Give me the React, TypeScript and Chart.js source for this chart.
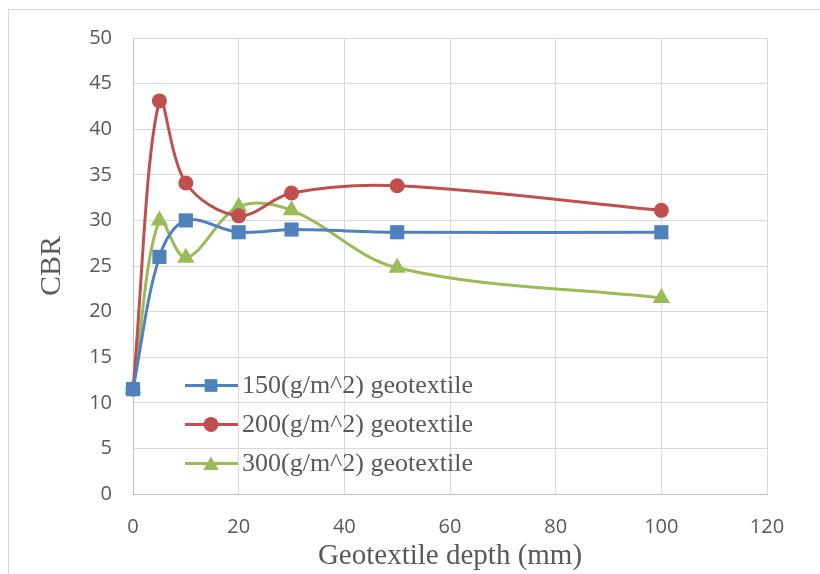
import React, { useEffect, useRef } from "react";
import { Chart, registerables } from "chart.js";

Chart.register(...registerables);

const depths = [0, 5, 10, 20, 30, 50, 100];
const cbr150 = [11.5, 26.0, 30.0, 28.7, 29.0, 28.7, 28.7];
const cbr200 = [11.5, 43.1, 34.1, 30.5, 33.0, 33.8, 31.1];
const cbr300 = [11.5, 30.0, 25.9, 31.5, 31.1, 24.8, 21.5];
const seriesNames = [
  "150(g/m^2) geotextile",
  "200(g/m^2) geotextile",
  "300(g/m^2) geotextile",
];
const seriesColors = ["#4f81bd", "#c0504d", "#9bbb59"];
const seriesMarkers = ["rect", "circle", "triangle"];
const markerRadius = [10, 7.5, 10];
const xTitle = "Geotextile depth (mm)";
const yTitle = "CBR";

const TEXT = "#595959";
const GRID = "#d9d9d9";
const AXIS = "#bfbfbf";

const frame = {
  id: "frame",
  beforeDraw(chart: any) {
    const ctx = chart.ctx;
    ctx.save();
    ctx.fillStyle = "#ffffff";
    ctx.fillRect(0, 0, chart.width, chart.height);
    ctx.strokeStyle = GRID;
    ctx.lineWidth = 1;
    ctx.strokeRect(8.5, 9.5, chart.width + 10, chart.height + 10);
    ctx.restore();
  },
};

function drawMarker(ctx: any, style: string, x: number, y: number, r: number) {
  ctx.beginPath();
  if (style === "rect") {
    const s = r * Math.SQRT1_2;
    ctx.rect(x - s, y - s, 2 * s, 2 * s);
  } else if (style === "circle") {
    ctx.arc(x, y, r, 0, Math.PI * 2);
  } else {
    ctx.moveTo(x, y - r);
    ctx.lineTo(x + r * 0.866, y + r * 0.5);
    ctx.lineTo(x - r * 0.866, y + r * 0.5);
    ctx.closePath();
  }
  ctx.fill();
}

const innerLegend = {
  id: "innerLegend",
  afterDatasetsDraw(chart: any) {
    const ctx = chart.ctx;
    const rows = [385.5, 424.5, 463.5];
    const radii = [9, 7.5, 9];
    chart.data.datasets.forEach((ds: any, i: number) => {
      const y = rows[i];
      ctx.save();
      ctx.strokeStyle = ds.borderColor;
      ctx.lineWidth = 3;
      ctx.beginPath();
      ctx.moveTo(185, y);
      ctx.lineTo(238, y);
      ctx.stroke();
      ctx.fillStyle = ds.borderColor;
      drawMarker(ctx, ds.pointStyle, 211, y + (i === 2 ? 2 : 0), radii[i]);
      ctx.fillStyle = TEXT;
      ctx.font = "26px 'Liberation Serif', 'Times New Roman', serif";
      ctx.textBaseline = "middle";
      ctx.textAlign = "left";
      ctx.fillText(ds.label, 242, y + 1);
      ctx.restore();
    });
  },
};

export default function App() {
  const ref = useRef<HTMLCanvasElement>(null);

  useEffect(() => {
    if (!ref.current) return;
    const series = [cbr150, cbr200, cbr300];
    const chart = new Chart(ref.current, {
      type: "line",
      data: {
        datasets: series.map((vals, i) => ({
          label: seriesNames[i],
          data: depths.map((d, j) => ({ x: d, y: vals[j] })),
          borderColor: seriesColors[i],
          backgroundColor: seriesColors[i],
          borderWidth: 3,
          pointStyle: seriesMarkers[i] as any,
          pointRadius: markerRadius[i],
          pointHoverRadius: markerRadius[i],
          pointBorderWidth: 0,
          tension: 0.35,
          fill: false,
          clip: false as any,
        })),
      },
      options: {
        animation: false,
        responsive: false,
        maintainAspectRatio: false,
        layout: { padding: { top: 38, right: 53, left: 0, bottom: 0 } },
        plugins: {
          legend: { display: false },
          tooltip: { enabled: false },
        },
        scales: {
          x: {
            type: "linear",
            min: 0,
            max: 120,
            ticks: {
              stepSize: 20,
              color: TEXT,
              padding: 21,
              font: { family: "'Open Sans', 'Liberation Sans', sans-serif", size: 20 },
            },
            grid: { color: GRID, lineWidth: 1, tickLength: 0 },
            border: { color: AXIS, width: 1 },
            title: {
              display: true,
              text: xTitle,
              color: TEXT,
              padding: { top: 0, bottom: 0 },
              font: { family: "'Liberation Serif', 'Times New Roman', serif", size: 29, weight: "normal" },
            },
            afterFit(scale: any) {
              scale.height = 80;
            },
          },
          y: {
            type: "linear",
            min: 0,
            max: 50,
            ticks: {
              stepSize: 5,
              color: TEXT,
              padding: 21,
              font: { family: "'Open Sans', 'Liberation Sans', sans-serif", size: 20 },
            },
            grid: { color: GRID, lineWidth: 1, tickLength: 0 },
            border: { color: AXIS, width: 1 },
            title: {
              display: true,
              text: yTitle,
              color: TEXT,
              padding: { top: 34, bottom: 0 },
              font: { family: "'Liberation Serif', 'Times New Roman', serif", size: 30, weight: "normal" },
            },
            afterFit(scale: any) {
              scale.width = 133;
            },
          },
        },
      },
      plugins: [frame, innerLegend],
    });
    return () => chart.destroy();
  }, []);

  return (
    <div style={{ position: "absolute", left: 0, top: 0, width: 820, height: 574 }}>
      <canvas ref={ref} width={820} height={574} style={{ width: 820, height: 574, display: "block" }} />
    </div>
  );
}
